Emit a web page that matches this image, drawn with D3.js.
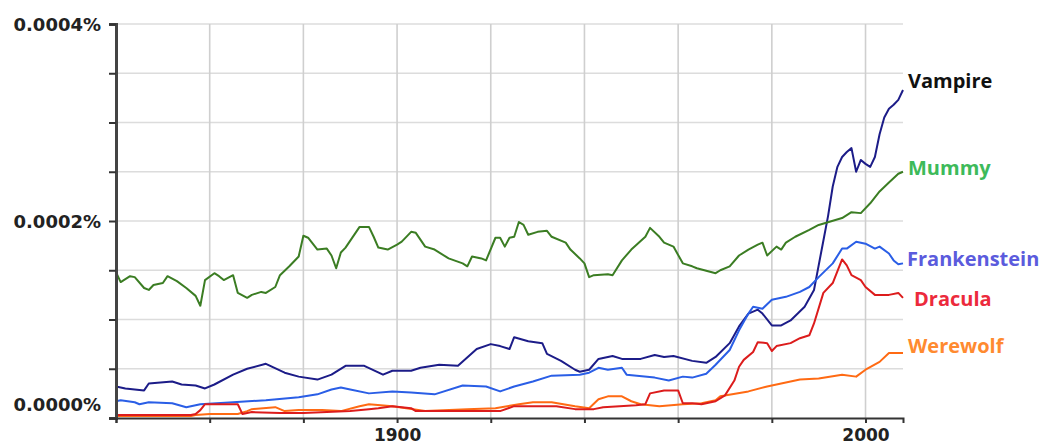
<!DOCTYPE html>
<html>
<head>
<meta charset="utf-8">
<script src="https://cdn.jsdelivr.net/npm/d3@7"></script>
<style>
  html, body { margin: 0; padding: 0; background: #ffffff; }
  svg { display: block; }
</style>
</head>
<body>
<svg id="chart" width="1044" height="446"></svg>
<script>
// ---------- DATA (values in units of 1e-6 %) ----------
const vampireYears  = [1840,1842,1846,1847,1852,1854,1857,1859,1861,1865,1868,1872,1876,1879,1883,1886,1889,1891,1893,1897,1899,1903,1905,1909,1913,1917,1920,1922,1924,1925,1928,1931,1932,1935,1938,1939,1941,1943,1946,1948,1952,1955,1957,1959,1963,1966,1968,1971,1973,1975,1977,1978,1980,1982,1984,1987,1989,1990,1991,1992,1993,1994,1995,1996,1997,1998,1999,2000,2001,2002,2003,2004,2005,2006,2007,2008];
const vampireValues = [32,30,28,35,37,34,33,30,34,44,50,55,46,42,39,44,53,53,53,44,48,48,51,54,53,70,75,73,70,82,78,76,65,58,49,47,49,60,63,60,60,64,62,63,58,56,62,76,93,106,110,106,94,94,99,113,130,155,180,205,235,255,265,270,274,250,262,258,255,265,288,305,314,318,323,333];

const mummyYears  = [1840,1841,1843,1844,1846,1847,1848,1850,1851,1853,1855,1857,1858,1859,1861,1862,1863,1865,1866,1868,1869,1871,1872,1874,1875,1877,1879,1880,1881,1883,1885,1886,1887,1888,1889,1892,1894,1895,1896,1898,1900,1901,1903,1904,1906,1908,1911,1914,1915,1916,1918,1919,1921,1922,1923,1924,1925,1926,1927,1928,1930,1932,1933,1936,1937,1939,1940,1941,1942,1945,1946,1948,1950,1953,1954,1956,1957,1959,1961,1963,1964,1968,1969,1971,1973,1975,1977,1978,1979,1981,1982,1983,1985,1988,1990,1995,1997,1999,2001,2003,2005,2007,2008];
const mummyValues = [148,138,144,143,132,130,135,137,144,139,132,124,114,140,147,144,140,145,127,122,125,128,127,133,145,154,164,185,183,171,172,165,152,168,173,194,194,184,173,171,176,179,189,188,174,171,162,157,154,164,162,160,183,183,174,183,184,199,196,186,189,190,184,178,171,162,157,143,145,146,145,160,171,184,193,184,178,174,157,154,152,147,150,154,165,171,176,178,165,174,171,178,184,191,196,203,209,208,218,230,239,248,250];

const frankensteinYears  = [1840,1841,1844,1845,1847,1852,1855,1858,1865,1872,1879,1883,1886,1888,1890,1894,1899,1903,1908,1914,1919,1922,1925,1929,1933,1939,1941,1943,1945,1948,1949,1955,1958,1961,1963,1966,1968,1971,1973,1975,1976,1978,1980,1983,1986,1988,1990,1993,1995,1996,1998,2000,2002,2003,2005,2006,2007,2008];
const frankensteinValues = [17,18,16,14,16,15,11,14,16,18,21,24,29,31,29,25,27,26,24,33,32,27,32,37,43,44,46,51,49,51,44,41,38,42,41,45,54,69,89,106,113,111,120,123,128,133,143,157,172,172,179,177,172,174,167,160,156,157];

const draculaYears  = [1840,1856,1857,1858,1859,1866,1867,1869,1875,1880,1885,1890,1894,1896,1899,1903,1904,1914,1922,1925,1929,1934,1938,1942,1944,1951,1953,1954,1957,1960,1961,1963,1965,1968,1970,1972,1973,1974,1976,1977,1979,1980,1981,1984,1986,1988,1989,1991,1993,1995,1996,1997,1999,2000,2002,2005,2007,2008];
const draculaValues = [3,3,4,8,14,14,4,6,5,5,6,7,9,10,12,10,7,7,7,12,12,12,9,9,11,13,14,25,28,28,15,15,14,17,23,38,52,59,67,77,76,68,73,76,81,84,96,127,137,161,155,145,140,133,125,125,127,122];

const werewolfYears  = [1840,1856,1857,1860,1866,1868,1869,1874,1876,1879,1884,1888,1892,1894,1899,1906,1915,1921,1926,1929,1933,1938,1941,1943,1945,1948,1950,1952,1956,1961,1965,1968,1969,1975,1979,1982,1986,1990,1995,1998,2000,2003,2005,2008];
const werewolfValues = [2,2,3,4,4,7,9,11,7,8,8,7,12,14,12,7,9,10,14,16,16,12,10,19,22,22,17,14,12,14,15,18,22,27,32,35,39,40,44,42,49,57,66,66];

const seriesNames = ["Vampire","Mummy","Frankenstein","Werewolf","Dracula"];
const yTickLabels = [0, 200, 400];       // labelled y ticks (1e-6 %)
const xTickLabels = [1900, 2000];        // labelled x ticks

// ---------- STYLE ----------
const lineColors  = {Vampire:"#1c1c88", Mummy:"#3b7d23", Frankenstein:"#2a5ee6", Werewolf:"#ff6a13", Dracula:"#dc1c1c"};
const labelColors = {Vampire:"#111111", Mummy:"#3dba5a", Frankenstein:"#5b5bdd", Werewolf:"#ff8a30", Dracula:"#ec2a3c"};
const labelDx = {Vampire:5, Mummy:5, Frankenstein:4, Werewolf:5, Dracula:11};
const labelDy = {Vampire:-2, Mummy:3, Frankenstein:3, Werewolf:0, Dracula:8};

const seriesData = {
  Vampire: d3.zip(vampireYears, vampireValues),
  Mummy: d3.zip(mummyYears, mummyValues),
  Frankenstein: d3.zip(frankensteinYears, frankensteinValues),
  Werewolf: d3.zip(werewolfYears, werewolfValues),
  Dracula: d3.zip(draculaYears, draculaValues)
};

const svg = d3.select("#chart");
const x = d3.scaleLinear().domain([1840, 2008]).range([116, 903]);
const y = d3.scaleLinear().domain([0, 400]).range([418, 24]);

// gridlines
const gridYs = d3.range(50, 401, 50);
svg.append("g").selectAll("line").data(gridYs).join("line")
  .attr("x1", x(1840)).attr("x2", x(2008))
  .attr("y1", d => y(d)).attr("y2", d => y(d))
  .attr("stroke", "#dcdcdc").attr("stroke-width", 1.6);
const gridXs = d3.range(1860, 2001, 20);
svg.append("g").selectAll("line").data(gridXs).join("line")
  .attr("x1", d => x(d)).attr("x2", d => x(d))
  .attr("y1", y(400)).attr("y2", y(0))
  .attr("stroke", "#cfcfcf").attr("stroke-width", 1.6);

// lines
const line = d3.line().x(d => x(d[0])).y(d => y(d[1]));
svg.append("g").selectAll("path").data(seriesNames).join("path")
  .attr("d", n => line(seriesData[n]))
  .attr("fill", "none")
  .attr("stroke", n => lineColors[n])
  .attr("stroke-width", 2)
  .attr("stroke-linejoin", "round");

// axes
const fmt = d => yTickLabels.includes(d) ? (d / 1e6).toFixed(4) + "%" : "";
const yAxis = svg.append("g").attr("transform", `translate(${x(1840)},0)`)
  .call(d3.axisLeft(y).tickValues(d3.range(0, 401, 50)).tickFormat(fmt).tickSize(7).tickPadding(8));
yAxis.select(".domain").attr("stroke", "#444").attr("stroke-width", 3);
yAxis.selectAll(".tick line").attr("stroke", "#333").attr("stroke-width", 2);
yAxis.selectAll(".tick text")
  .attr("font-family", "DejaVu Sans, sans-serif").attr("font-weight", "bold")
  .attr("font-size", 18).attr("fill", "#222")
  .attr("dy", d => d === 0 ? "-0.4em" : "0.35em");

const xAxis = svg.append("g").attr("transform", `translate(0,${y(0)})`)
  .call(d3.axisBottom(x).tickValues(d3.range(1840, 2001, 20))
    .tickFormat(d => xTickLabels.includes(d) ? String(d) : "").tickSize(5).tickPadding(6));
xAxis.select(".domain").attr("stroke", "#333").attr("stroke-width", 2);
xAxis.selectAll(".tick line").attr("stroke", "#333").attr("stroke-width", 2);
xAxis.selectAll(".tick text")
  .attr("font-family", "DejaVu Sans, sans-serif").attr("font-weight", "bold")
  .attr("font-size", 17).attr("fill", "#222");

// series labels
svg.append("g").selectAll("text").data(seriesNames).join("text")
  .attr("x", n => x(2008) + labelDx[n])
  .attr("y", n => y(seriesData[n][seriesData[n].length - 1][1]) + labelDy[n])
  .attr("fill", n => labelColors[n])
  .attr("font-family", "Open Sans, sans-serif")
  .attr("font-weight", "bold")
  .attr("font-size", 20)
  .text(n => n);
</script>
</body>
</html>
